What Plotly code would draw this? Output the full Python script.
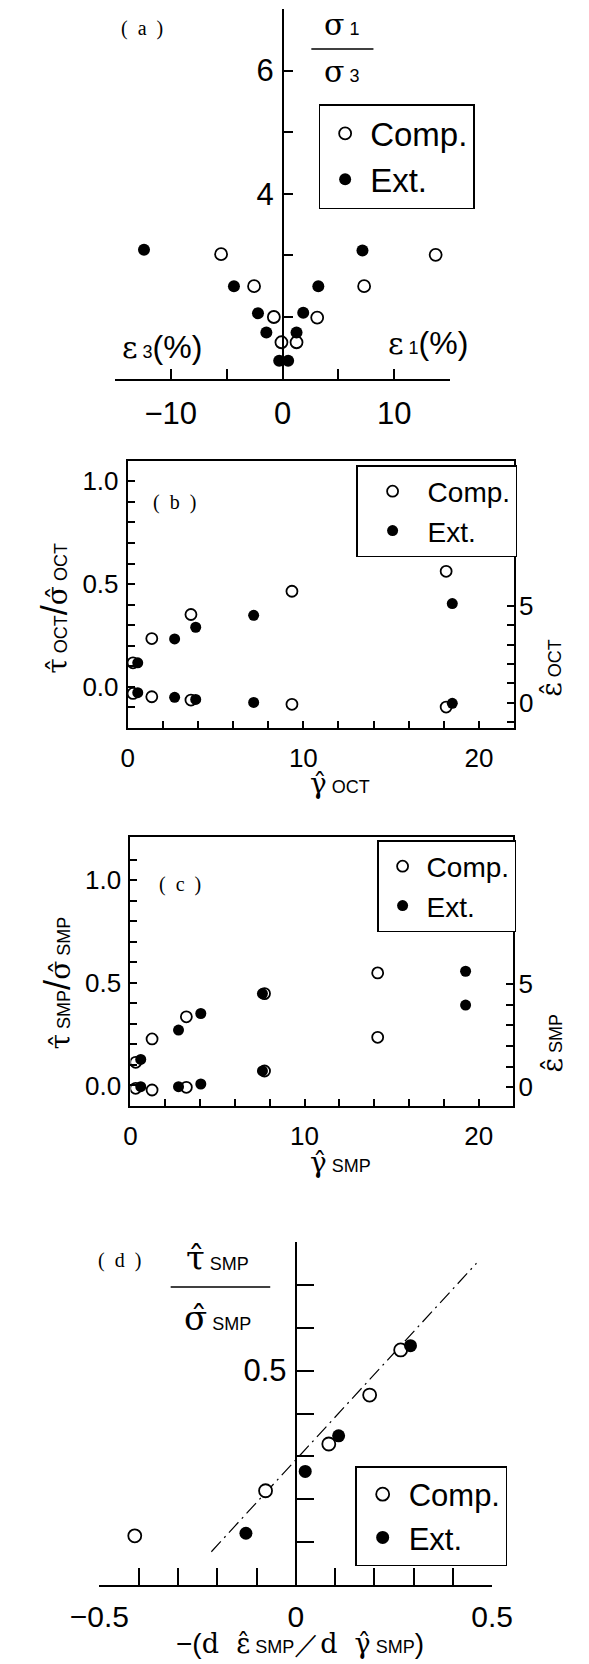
import plotly.graph_objects as go

W, H = 589, 1664

# ---------------- data ----------------
# (a) stress ratio vs strains
a_comp_x = [-5.5, -2.55, -0.78, -0.1, 1.25, 3.1, 7.3, 13.7]
a_comp_y = [3.02, 2.50, 2.00, 1.59, 1.59, 1.99, 2.50, 3.01]
a_ext_x = [-12.4, -4.35, -2.2, -1.45, 1.25, 1.85, 3.2, 7.15, -0.3, 0.5]
a_ext_y = [3.09, 2.50, 2.06, 1.75, 1.75, 2.07, 2.50, 3.08, 1.29, 1.29]

# (b) OCT
b_comp_gamma = [0.3, 1.37, 3.6, 9.35, 18.13]
b_comp_ratio = [0.117, 0.235, 0.352, 0.465, 0.562]
b_comp_eps = [0.48, 0.31, 0.14, -0.08, -0.22]
b_ext_gamma = [0.57, 2.67, 3.87, 7.17, 18.48]
b_ext_ratio = [0.117, 0.233, 0.29, 0.348, 0.405]
b_ext_eps = [0.52, 0.28, 0.17, 0.02, -0.03]

# (c) SMP
c_comp_gamma = [0.3, 1.24, 3.21, 7.7, 14.2]
c_comp_ratio = [0.113, 0.227, 0.335, 0.448, 0.549]
c_comp_eps = [-0.05, -0.13, 0.0, 0.79, 2.42]
c_ext_gamma = [0.59, 2.76, 4.04, 7.58, 19.25]
c_ext_ratio = [0.127, 0.27, 0.351, 0.448, 0.557]
c_ext_eps = [0.03, 0.03, 0.16, 0.79, 3.98]

# (d) stress-dilatancy
d_comp_x = [-0.41, -0.077, 0.084, 0.188, 0.267]
d_comp_y = [0.115, 0.22, 0.329, 0.443, 0.548]
d_ext_x = [-0.127, 0.024, 0.109, 0.292]
d_ext_y = [0.121, 0.265, 0.348, 0.558]
d_fit_x = [-0.215, 0.46]
d_fit_y = [0.078, 0.75]

# ---------------- helpers ----------------
def px(fx):
    return fx / W

def py(fy):
    return 1 - fy / H

SANS = "Liberation Sans"
SERIF = "DejaVu Serif"
LSERIF = "Liberation Serif"
BLACK = "black"

def open_marker(size):
    return dict(symbol="circle", size=size, color="white", line=dict(color=BLACK, width=1.8))

def fill_marker(size):
    return dict(symbol="circle", size=size, color=BLACK, line=dict(color=BLACK, width=0))

fig = go.Figure()

# panel a
fig.add_trace(go.Scatter(x=a_comp_x, y=a_comp_y, mode="markers", name="Comp.", marker=open_marker(12),
                         xaxis="x", yaxis="y", legend="legend"))
fig.add_trace(go.Scatter(x=a_ext_x, y=a_ext_y, mode="markers", name="Ext.", marker=fill_marker(12),
                         xaxis="x", yaxis="y", legend="legend"))

# panel b
fig.add_trace(go.Scatter(x=b_comp_gamma, y=b_comp_ratio, mode="markers", name="Comp.", marker=open_marker(11),
                         xaxis="x2", yaxis="y2", legend="legend2"))
fig.add_trace(go.Scatter(x=b_comp_gamma, y=b_comp_eps, mode="markers", name="Comp.", marker=open_marker(11),
                         xaxis="x2", yaxis="y3", showlegend=False))
fig.add_trace(go.Scatter(x=b_ext_gamma, y=b_ext_ratio, mode="markers", name="Ext.", marker=fill_marker(11),
                         xaxis="x2", yaxis="y2", legend="legend2"))
fig.add_trace(go.Scatter(x=b_ext_gamma, y=b_ext_eps, mode="markers", name="Ext.", marker=fill_marker(11),
                         xaxis="x2", yaxis="y3", showlegend=False))

# panel c
fig.add_trace(go.Scatter(x=c_comp_gamma, y=c_comp_ratio, mode="markers", name="Comp.", marker=open_marker(11),
                         xaxis="x3", yaxis="y4", legend="legend3"))
fig.add_trace(go.Scatter(x=c_comp_gamma, y=c_comp_eps, mode="markers", name="Comp.", marker=open_marker(11),
                         xaxis="x3", yaxis="y5", showlegend=False))
fig.add_trace(go.Scatter(x=c_ext_gamma, y=c_ext_ratio, mode="markers", name="Ext.", marker=fill_marker(11),
                         xaxis="x3", yaxis="y4", legend="legend3"))
fig.add_trace(go.Scatter(x=c_ext_gamma, y=c_ext_eps, mode="markers", name="Ext.", marker=fill_marker(11),
                         xaxis="x3", yaxis="y5", showlegend=False))

# panel d
fig.add_trace(go.Scatter(x=d_fit_x, y=d_fit_y, mode="lines",
                         line=dict(color=BLACK, width=1.2, dash="14px,5px,2px,5px"),
                         xaxis="x4", yaxis="y6", showlegend=False, hoverinfo="skip"))
fig.add_trace(go.Scatter(x=d_comp_x, y=d_comp_y, mode="markers", name="Comp.", marker=open_marker(13),
                         xaxis="x4", yaxis="y6", legend="legend4"))
fig.add_trace(go.Scatter(x=d_ext_x, y=d_ext_y, mode="markers", name="Ext.", marker=fill_marker(13),
                         xaxis="x4", yaxis="y6", legend="legend4"))

# ---------------- axes ----------------
base = dict(showgrid=False, zeroline=False, showline=True, linecolor=BLACK, linewidth=2,
            ticks="inside", tickcolor=BLACK, tickwidth=2)

def labels(vals, shown):
    out = []
    for v in vals:
        key = round(v, 3)
        out.append(shown.get(key, ""))
    return out

a_xt = [-15, -10, -5, 0, 5, 10, 15]
a_yt = [2, 3, 4, 5, 6, 7]
bc_xt = [0, 2, 4, 6, 8, 10, 12, 14, 16, 18, 20]
b_yt = [round(-0.1 + 0.1 * i, 2) for i in range(12)]
b_y2t = [-1, 0, 1, 2, 3, 4, 5]
c_yt = [round(0.1 * i, 2) for i in range(12)]
c_y2t = [0, 1, 2, 3, 4, 5]
d_xt = [round(-0.5 + 0.1 * i, 2) for i in range(11)]
d_yt = [round(0.1 * i, 2) for i in range(1, 9)]

fig.update_layout(
    xaxis=dict(base, domain=[px(93), px(460)], range=[-15, 15], anchor="y",
               tickvals=a_xt, ticktext=labels(a_xt, {-10: "\u221210", 0: "0", 10: "10"}),
               ticklen=10, tickfont=dict(family=SANS, size=31, color=BLACK), ticklabelstandoff=6),
    yaxis=dict(base, domain=[py(378.6), py(9)], range=[1, 7], anchor="free", position=px(277),
               tickvals=a_yt, ticktext=labels(a_yt, {4: "4", 6: "6"}),
               ticklen=9, tickfont=dict(family=SANS, size=31, color=BLACK), ticklabelstandoff=2),

    xaxis2=dict(base, domain=[px(107), px(530)], range=[0, 22], anchor="y2", mirror=True,
                tickvals=bc_xt, ticktext=labels(bc_xt, {0: "0", 10: "10", 20: "20"}),
                ticklen=7, tickfont=dict(family=SANS, size=26, color=BLACK), ticklabelstandoff=6),
    yaxis2=dict(base, domain=[py(728), py(460.7)], range=[-0.2, 1.1], anchor="x2", mirror=True,
                tickvals=b_yt, ticktext=labels(b_yt, {0.0: "0.0", 0.5: "0.5", 1.0: "1.0"}),
                ticklen=7, tickfont=dict(family=SANS, size=26, color=BLACK), ticklabelstandoff=2),
    yaxis3=dict(base, overlaying="y2", side="right", anchor="x2", range=[-1.3, 12.47], showline=False,
                tickvals=b_y2t, ticktext=labels(b_y2t, {0: "0", 5: "5"}),
                ticklen=7, tickfont=dict(family=SANS, size=26, color=BLACK), ticklabelstandoff=4),

    xaxis3=dict(base, domain=[px(110), px(529.3)], range=[0, 22], anchor="y4", mirror=True,
                tickvals=bc_xt, ticktext=labels(bc_xt, {0: "0", 10: "10", 20: "20"}),
                ticklen=7, tickfont=dict(family=SANS, size=26, color=BLACK), ticklabelstandoff=6),
    yaxis4=dict(base, domain=[py(1106), py(837.3)], range=[-0.1, 1.21], anchor="x3", mirror=True,
                tickvals=c_yt, ticktext=labels(c_yt, {0.0: "0.0", 0.5: "0.5", 1.0: "1.0"}),
                ticklen=7, tickfont=dict(family=SANS, size=26, color=BLACK), ticklabelstandoff=2),
    yaxis5=dict(base, overlaying="y4", side="right", anchor="x3", range=[-0.905, 12.1], showline=False,
                tickvals=c_y2t, ticktext=labels(c_y2t, {0: "0", 5: "5"}),
                ticklen=7, tickfont=dict(family=SANS, size=26, color=BLACK), ticklabelstandoff=4),

    xaxis4=dict(base, domain=[px(76), px(506)], range=[-0.5, 0.5], anchor="y6",
                tickvals=d_xt, ticktext=labels(d_xt, {-0.5: "\u22120.5", 0.0: "0", 0.5: "0.5"}),
                ticklen=17, tickfont=dict(family=SANS, size=30, color=BLACK), ticklabelstandoff=4),
    yaxis6=dict(base, domain=[py(1585.2), py(1241.8)], range=[0, 0.8], anchor="free", position=px(291),
                tickvals=d_yt, ticktext=labels(d_yt, {0.5: "0.5"}),
                ticklen=17, tickfont=dict(family=SANS, size=31, color=BLACK), ticklabelstandoff=2),
)

# ---------------- legends ----------------
def leg(x, y, size, iw):
    return dict(x=x, y=y, xanchor="left", yanchor="top", bgcolor="white", bordercolor=BLACK,
                borderwidth=1.5, font=dict(family=SANS, size=size, color=BLACK), itemwidth=iw,
                tracegroupgap=0)

fig.update_layout(
    legend=leg(px(316), py(104), 33, 40),
    legend2=leg(px(357), py(465), 28, 60),
    legend3=leg(px(380), py(840), 28, 38),
    legend4=leg(px(356), py(1466), 31, 42),
)

# ---------------- annotations ----------------
def sp(text, size=None, family=None):
    st = []
    if family:
        st.append("font-family:%s" % family)
    if size:
        st.append("font-size:%dpx" % size)
    return "<span style='%s'>%s</span>" % (";".join(st), text)

ann = []
def add(text, fx, fy, size, family=SANS, angle=0, xanchor="center"):
    ann.append(dict(text=text, x=px(fx), y=py(fy), xref="paper", yref="paper", showarrow=False,
                    xanchor=xanchor, yanchor="middle", textangle=angle,
                    font=dict(family=family, size=size, color=BLACK)))

g = lambda ch, s=30: sp(ch, s, SERIF)
hat = "\u0302"
nb = "&nbsp;"

# panel a
add("(" + nb + " a " + nb + ")", 123, 28, 20, LSERIF)
add(g("\u03c3", 30) + sp(" 1", 18), 342, 25, 30)
add(g("\u03c3", 30) + sp(" 3", 18), 342, 72, 30)
add(g("\u03b5", 30) + sp(" 3", 18) + "(%)", 144, 347, 32)
add(g("\u03b5", 30) + sp(" 1", 18) + "(%)", 436, 343, 32)

# panel b
add("(" + nb + " b " + nb + ")", 158, 502, 20, LSERIF)
add(g("\u03c4" + hat, 28) + " OCT" + sp("/", 36) + g("\u03c3" + hat, 28) + " OCT", 26, 608, 18, angle=-90)
add(g("\u03b5" + hat, 28) + " OCT", 570, 668, 18, angle=-90)
add(g("\u03b3" + hat, 28) + " OCT", 339, 783, 18)

# panel c
add("(" + nb + " c " + nb + ")", 164, 884, 20, LSERIF)
add(g("\u03c4" + hat, 28) + " SMP" + sp("/", 36) + g("\u03c3" + hat, 28) + " SMP", 30, 983, 18, angle=-90)
add(g("\u03b5" + hat, 28) + " SMP", 572, 1043, 18, angle=-90)
add(g("\u03b3" + hat, 28) + " SMP", 340, 1162, 18)

# panel d
add("(" + nb + " d " + nb + ")", 98, 1260, 20, LSERIF)
add(g("\u03c4" + hat, 34) + " SMP", 205, 1258, 18)
add(g("\u03c3" + hat, 34) + " SMP", 205, 1318, 18)
add(sp("\u2212(", 28) + g("d" + nb + " \u03b5" + hat, 27) + " SMP" + sp("\uff0f", 26)
    + g("d" + nb + " \u03b3" + hat, 27) + " SMP" + sp(")", 28), 296, 1643, 18)
fig.update_layout(annotations=ann)

# fraction bars
fig.update_layout(shapes=[
    dict(type="line", xref="paper", yref="paper", x0=px(308), x1=px(376), y0=py(49), y1=py(49),
         line=dict(color=BLACK, width=1.5)),
    dict(type="line", xref="paper", yref="paper", x0=px(154), x1=px(263), y0=py(1287), y1=py(1287),
         line=dict(color=BLACK, width=1.5)),
])

fig.update_layout(width=W, height=H, margin=dict(l=0, r=0, t=0, b=0),
                  plot_bgcolor="white", paper_bgcolor="white", showlegend=True)

fig.write_html("out.html")
